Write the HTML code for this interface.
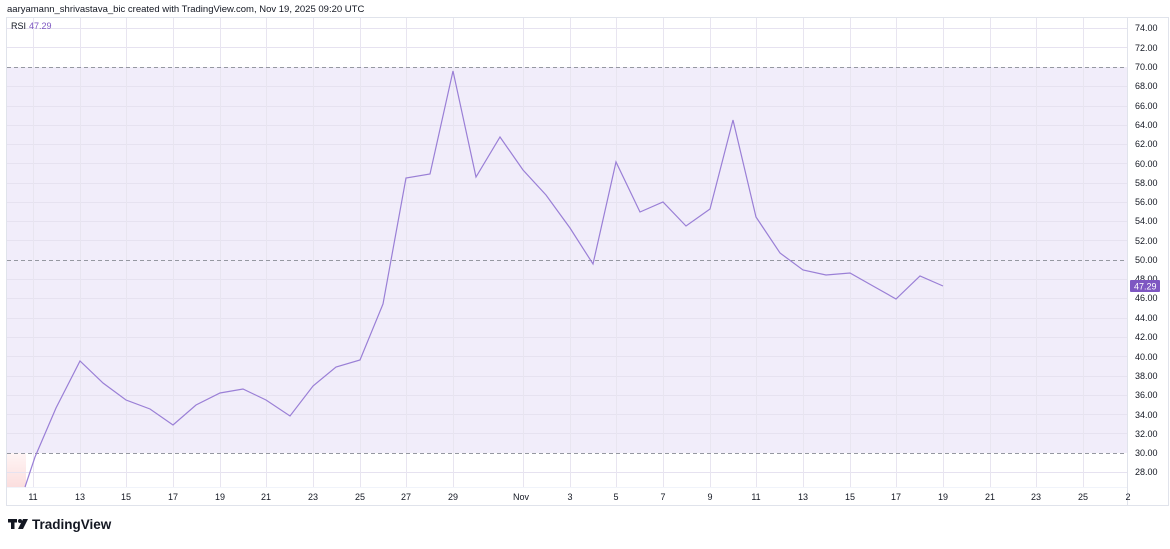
<!DOCTYPE html>
<html><head><meta charset="utf-8"><style>
body{margin:0;background:#fff;width:1170px;height:544px;overflow:hidden;font-family:"Liberation Sans",sans-serif}
</style></head><body>
<svg width="1170" height="544" xmlns="http://www.w3.org/2000/svg" font-family="Liberation Sans, sans-serif">
<defs>
<linearGradient id="pk" x1="0" y1="1" x2="0" y2="0"><stop offset="0" stop-color="#fbdede"/><stop offset="1" stop-color="#fff5f5"/></linearGradient>
</defs>
<text x="7" y="12" font-size="9.5" fill="#131722">aaryamann_shrivastava_bic created with TradingView.com, Nov 19, 2025 09:20 UTC</text>
<rect x="6.5" y="17.5" width="1162" height="488" fill="none" stroke="#e0e3eb"/>
<line x1="1127.5" y1="18" x2="1127.5" y2="505" stroke="#e0e3eb"/>
<line x1="7" y1="487.5" x2="1127" y2="487.5" stroke="#f0f3fa"/>
<rect x="7" y="67" width="1120" height="386" fill="#f1edfa"/>
<rect x="7" y="453" width="19" height="34" fill="url(#pk)"/>
<g stroke="#e6e2f0" stroke-width="1">
<line x1="7" y1="28.5" x2="1127" y2="28.5"/><line x1="7" y1="47.5" x2="1127" y2="47.5"/>
<line x1="7" y1="86.5" x2="1127" y2="86.5"/><line x1="7" y1="106.5" x2="1127" y2="106.5"/><line x1="7" y1="125.5" x2="1127" y2="125.5"/><line x1="7" y1="144.5" x2="1127" y2="144.5"/><line x1="7" y1="163.5" x2="1127" y2="163.5"/><line x1="7" y1="183.5" x2="1127" y2="183.5"/><line x1="7" y1="202.5" x2="1127" y2="202.5"/><line x1="7" y1="221.5" x2="1127" y2="221.5"/><line x1="7" y1="240.5" x2="1127" y2="240.5"/>
<line x1="7" y1="279.5" x2="1127" y2="279.5"/><line x1="7" y1="298.5" x2="1127" y2="298.5"/><line x1="7" y1="318.5" x2="1127" y2="318.5"/><line x1="7" y1="337.5" x2="1127" y2="337.5"/><line x1="7" y1="356.5" x2="1127" y2="356.5"/><line x1="7" y1="376.5" x2="1127" y2="376.5"/><line x1="7" y1="395.5" x2="1127" y2="395.5"/><line x1="7" y1="414.5" x2="1127" y2="414.5"/><line x1="7" y1="433.5" x2="1127" y2="433.5"/><line x1="7" y1="472.5" x2="1127" y2="472.5"/>
</g>
<g stroke="#e8e5f0">
<line x1="33.5" y1="18" x2="33.5" y2="487"/><line x1="80.5" y1="18" x2="80.5" y2="487"/><line x1="126.5" y1="18" x2="126.5" y2="487"/><line x1="173.5" y1="18" x2="173.5" y2="487"/><line x1="220.5" y1="18" x2="220.5" y2="487"/><line x1="266.5" y1="18" x2="266.5" y2="487"/><line x1="313.5" y1="18" x2="313.5" y2="487"/><line x1="360.5" y1="18" x2="360.5" y2="487"/><line x1="406.5" y1="18" x2="406.5" y2="487"/><line x1="453.5" y1="18" x2="453.5" y2="487"/><line x1="523.5" y1="18" x2="523.5" y2="487"/><line x1="570.5" y1="18" x2="570.5" y2="487"/><line x1="616.5" y1="18" x2="616.5" y2="487"/><line x1="663.5" y1="18" x2="663.5" y2="487"/><line x1="710.5" y1="18" x2="710.5" y2="487"/><line x1="756.5" y1="18" x2="756.5" y2="487"/><line x1="803.5" y1="18" x2="803.5" y2="487"/><line x1="850.5" y1="18" x2="850.5" y2="487"/><line x1="896.5" y1="18" x2="896.5" y2="487"/><line x1="943.5" y1="18" x2="943.5" y2="487"/><line x1="990.5" y1="18" x2="990.5" y2="487"/><line x1="1036.5" y1="18" x2="1036.5" y2="487"/><line x1="1083.5" y1="18" x2="1083.5" y2="487"/>
</g>
<g stroke="#9598a1" stroke-dasharray="4,3">
<line x1="7" y1="67.5" x2="1127" y2="67.5"/><line x1="7" y1="260.5" x2="1127" y2="260.5"/><line x1="7" y1="453.5" x2="1127" y2="453.5"/>
</g>
<polyline fill="none" stroke="#9a7fd6" stroke-width="1.2" points="25,487 35,457 56,408 80,361 103,383 126,400 150,409 173,425 196,405 220,393 243,389 266,400 290,416 313,386 336,367 360,360 383,304 406,178 430,174 453,71 476,177 500,137 523,170 546,195 570,228 593,264 616,162 640,212 663,202 686,226 710,209 733,120 756,217 780,253 803,270 826,275 850,273 873,286 896,299 920,276 943,286"/>
<text x="11" y="29" font-size="9" fill="#131722">RSI</text>
<text x="29" y="29" font-size="9" fill="#7e57c2">47.29</text>
<g font-size="9" fill="#131722">
<text x="1135" y="31">74.00</text><text x="1135" y="51">72.00</text><text x="1135" y="70">70.00</text><text x="1135" y="89">68.00</text><text x="1135" y="109">66.00</text><text x="1135" y="128">64.00</text><text x="1135" y="147">62.00</text><text x="1135" y="167">60.00</text><text x="1135" y="186">58.00</text><text x="1135" y="205">56.00</text><text x="1135" y="224">54.00</text><text x="1135" y="244">52.00</text><text x="1135" y="263">50.00</text><text x="1135" y="282">48.00</text><text x="1135" y="321">44.00</text><text x="1135" y="340">42.00</text><text x="1135" y="360">40.00</text><text x="1135" y="379">38.00</text><text x="1135" y="398">36.00</text><text x="1135" y="418">34.00</text><text x="1135" y="437">32.00</text><text x="1135" y="456">30.00</text><text x="1135" y="475">28.00</text>
<text x="1135" y="301">46.00</text>
</g>
<rect x="1130" y="280" width="30" height="12" rx="1" fill="#7e57c2"/>
<text x="1134" y="289.5" font-size="9" fill="#fff">47.29</text>
<g font-size="9" fill="#131722" text-anchor="middle">
<text x="33" y="500">11</text><text x="80" y="500">13</text><text x="126" y="500">15</text><text x="173" y="500">17</text><text x="220" y="500">19</text><text x="266" y="500">21</text><text x="313" y="500">23</text><text x="360" y="500">25</text><text x="406" y="500">27</text><text x="453" y="500">29</text><text x="521" y="500">Nov</text><text x="570" y="500">3</text><text x="616" y="500">5</text><text x="663" y="500">7</text><text x="710" y="500">9</text><text x="756" y="500">11</text><text x="803" y="500">13</text><text x="850" y="500">15</text><text x="896" y="500">17</text><text x="943" y="500">19</text><text x="990" y="500">21</text><text x="1036" y="500">23</text><text x="1083" y="500">25</text><text x="1128" y="500">2</text>
</g>
<g fill="#131722">
<rect x="8" y="519" width="9" height="3.5"/><rect x="11" y="519" width="3.5" height="10"/>
<circle cx="20" cy="521" r="2"/><polygon points="23,519 28,519 23,529 18,529"/>
</g>
<text x="32" y="529" font-size="13.5" font-weight="bold" fill="#131722">TradingView</text>
</svg>
</body></html>
